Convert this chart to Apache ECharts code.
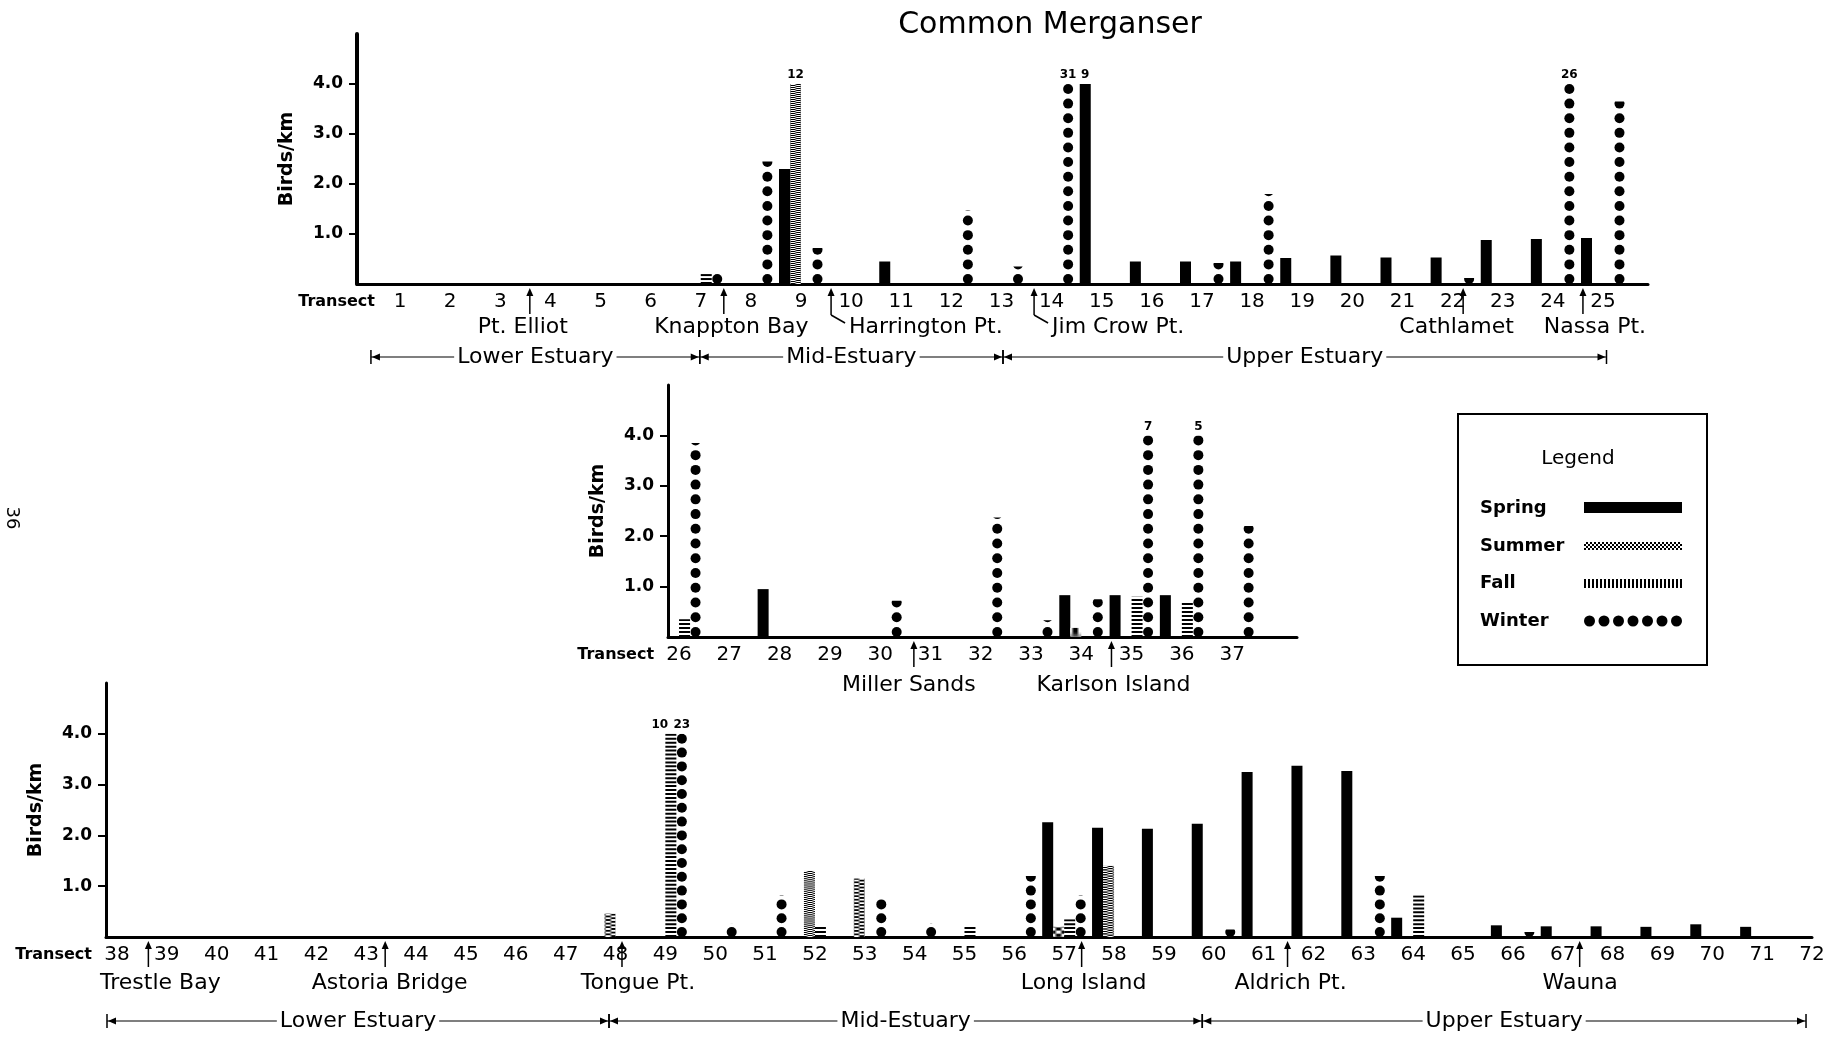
<!DOCTYPE html>
<html>
<head>
<meta charset="utf-8">
<title>Common Merganser</title>
<script src="https://cdn.jsdelivr.net/npm/echarts@6.0.0/dist/echarts.min.js"></script>
<style>
  html, body { margin: 0; padding: 0; background: #fff; }
  #chart { width: 1846px; height: 1037px; }
</style>
</head>
<body>
<div id="chart"></div>
<script>
// ===================== DATA: Birds/km by transect and season =====================
// null = none recorded. Values above CLIP are drawn cut at 4.0 and labelled with their value.
const CLIP = 4.0;
const seasonNames = ['Spring', 'Summer', 'Fall', 'Winter'];

// Panel 1 — transects 1–25
const topTransects = [1,2,3,4,5,6,7,8,9,10,11,12,13,14,15,16,17,18,19,20,21,22,23,24,25];
const topSpring = [null,null,null,null,null,null,null,null,2.3,null,0.45,null,null,null,9,0.45,0.45,0.45,0.52,0.57,0.53,0.53,0.88,0.9,0.92];
const topSummer = [null,null,null,null,null,null,null,null,12,null,null,null,null,null,null,null,null,null,null,null,null,null,null,null,null];
const topFall   = [null,null,null,null,null,null,0.2,null,null,null,null,null,null,null,null,null,null,null,null,null,null,null,null,null,null];
const topWinter = [null,null,null,null,null,null,0.25,2.45,0.72,null,null,1.47,0.35,31,null,null,0.42,1.8,null,null,null,0.12,null,26,3.65];

// Panel 2 — transects 26–37
const midTransects = [26,27,28,29,30,31,32,33,34,35,36,37];
const midSpring = [null,null,0.95,null,null,null,null,null,0.83,0.83,0.83,null];
const midSummer = [null,null,null,null,null,null,null,null,0.18,null,null,null];
const midFall   = [0.35,null,null,null,null,null,null,null,null,0.8,0.68,null];
const midWinter = [3.85,null,null,null,0.72,null,2.37,0.33,0.75,7,5,2.2];

// Panel 3 — transects 38–72
const botTransects = [38,39,40,41,42,43,44,45,46,47,48,49,50,51,52,53,54,55,56,57,58,59,60,61,62,63,64,65,66,67,68,69,70,71,72];
const botSpring = [null,null,null,null,null,null,null,null,null,null,null,null,null,null,null,null,null,null,null,2.26,2.15,2.13,2.23,3.25,3.37,3.27,0.38,null,0.23,0.21,0.21,0.2,0.25,0.2,null];
const botSummer = [null,null,null,null,null,null,null,null,null,null,0.46,null,null,null,1.3,1.15,null,null,null,0.2,1.4,null,null,null,null,null,null,null,null,null,null,null,null,null,null];
const botFall   = [null,null,null,null,null,null,null,null,null,null,null,10,null,null,0.2,null,null,0.2,null,0.35,null,null,null,null,null,null,0.82,null,null,null,null,null,null,null,null];
const botWinter = [null,null,null,null,null,null,null,null,null,null,null,23,0.26,0.82,null,0.77,0.27,null,1.2,0.82,null,null,0.15,null,null,1.2,null,null,0.1,null,null,null,null,null,null];

// Landmarks along the river: [name, arrow position (transect units), label centre (transect units) or null for a leader label]
const topLandmarks = [['Pt. Elliot',3.59,3.45],['Knappton Bay',7.46,7.61],['Harrington Pt.',9.6,null],['Jim Crow Pt.',13.65,null],['Cathlamet',22.21,22.08],['Nassa Pt.',24.6,24.84]];
const midLandmarks = [['Miller Sands',30.67,30.57],['Karlson Island',34.6,34.64]];
const botLandmarks = [['Trestle Bay',38.63,38.87],['Astoria Bridge',43.38,43.47],['Tongue Pt.',48.13,48.45],['Long Island',57.35,57.39],['Aldrich Pt.',61.48,61.54],['Wauna',67.34,67.35]];

// Estuary zones: [name, from, to] in transect units
const topZones = [['Lower Estuary',0.42,6.98],['Mid-Estuary',6.98,13.03],['Upper Estuary',13.03,25.07]];
const botZones = [['Lower Estuary',37.8,47.87],['Mid-Estuary',47.87,59.77],['Upper Estuary',59.77,71.88]];

// ===================== LAYOUT / STYLE =====================
const FONT = 'DejaVu Sans';
const panels = [
  { transects: topTransects, vals: [topSpring, topSummer, topFall, topWinter], landmarks: topLandmarks, zones: topZones,
    grid: { left: 357, top: 34, width: 1291, height: 250 }, xmin: 0.142, xmax: 25.898, yLine: 4, textDy: 43, zoneDy: 73 },
  { transects: midTransects, vals: [midSpring, midSummer, midFall, midWinter], landmarks: midLandmarks, zones: [],
    grid: { left: 668, top: 385, width: 629, height: 252 }, xmin: 25.78, xmax: 38.29, yLine: 3, textDy: 48, zoneDy: 0 },
  { transects: botTransects, vals: [botSpring, botSummer, botFall, botWinter], landmarks: botLandmarks, zones: botZones,
    grid: { left: 106, top: 683, width: 1706, height: 254 }, xmin: 37.78, xmax: 72, yLine: 3, textDy: 46, zoneDy: 84 }
];

function makeCanvas(w, h, draw) {
  const c = document.createElement('canvas'); c.width = w; c.height = h;
  const g = c.getContext('2d'); g.fillStyle = '#fff'; g.fillRect(0, 0, w, h); g.fillStyle = '#000'; draw(g); return c;
}
const stippleImg = makeCanvas(4, 4, g => { g.fillRect(0, 0, 2, 2); g.fillRect(2, 2, 2, 2); });
const vStripeImg = makeCanvas(4, 1, g => { g.fillRect(0, 0, 2, 1); });
const stipple = { image: stippleImg, repeat: 'repeat' };
const vStripes = { image: vStripeImg, repeat: 'repeat' };

const look = {
  Spring: { symbol: 'rect', symbolRepeat: false, symbolSize: ['100%', '100%'], itemStyle: { color: '#000' } },
  Summer: { symbol: 'rect', symbolRepeat: false, symbolSize: ['100%', '100%'], itemStyle: { color: stipple } },
  Fall:   { symbol: 'rect', symbolRepeat: true, symbolClip: true, symbolBoundingData: CLIP, symbolSize: ['100%', 2], symbolMargin: 1, itemStyle: { color: '#000' },
            label: { padding: [0, 22, 0, 0] } },
  Winter: { symbol: 'circle', symbolRepeat: true, symbolClip: true, symbolBoundingData: CLIP, symbolSize: [10, 10], symbolMargin: 2.4, itemStyle: { color: '#000' } }
};

const series = [];
panels.forEach((p, k) => {
  seasonNames.forEach((s, si) => {
    const lk = look[s];
    const data = [];
    p.vals[si].forEach((v, i) => {
      if (v == null) return;
      const item = { value: [p.transects[i], Math.min(v, CLIP)] };
      if (v > CLIP) item.label = Object.assign({ show: true, formatter: String(v) }, lk.label || {});
      data.push(item);
    });
    series.push(Object.assign({}, lk, {
      type: 'pictorialBar', name: s, xAxisIndex: k, yAxisIndex: k,
      barWidth: 11, barGap: '0%', data, animation: false, z: 3,
      label: Object.assign({ show: false, position: 'top', distance: 3, color: '#000', fontFamily: FONT, fontSize: 12, fontWeight: 'bold' }, lk.label || {})
    }));
  });
});

const option = {
  backgroundColor: '#fff',
  animation: false,
  grid: panels.map(p => Object.assign({ containLabel: false, outerBoundsMode: 'none' }, p.grid)),
  xAxis: panels.map((p, k) => ({
    type: 'value', gridIndex: k, min: p.xmin, max: p.xmax,
    axisLine: { show: true, onZero: false, lineStyle: { color: '#000', width: 3 } },
    axisTick: { show: false },
    splitLine: { show: false },
    axisLabel: { customValues: p.transects, margin: 8, color: '#000', fontFamily: FONT, fontSize: 20, hideOverlap: false }
  })),
  yAxis: panels.map((p, k) => ({
    type: 'value', gridIndex: k, min: 0, max: 5, interval: 1,
    name: 'Birds/km', nameLocation: 'middle', nameRotate: 90, nameGap: 60,
    nameTextStyle: { color: '#000', fontFamily: FONT, fontSize: 19, fontWeight: 'bold' },
    axisLine: { show: true, lineStyle: { color: '#000', width: p.yLine } },
    axisTick: { show: true, length: 8, customValues: [1, 2, 3, 4], lineStyle: { color: '#000', width: 2 } },
    splitLine: { show: false },
    axisLabel: { customValues: [1, 2, 3, 4], formatter: v => v.toFixed(1), margin: 14, color: '#000', fontFamily: FONT, fontSize: 17, fontWeight: 'bold' }
  })),
  series
};

const chart = echarts.init(document.getElementById('chart'), null, { renderer: 'canvas' });
chart.setOption(option);

// ===================== annotations placed through the axes =====================
const px = (k, u) => chart.convertToPixel({ xAxisIndex: k }, u);
const py = (k, v) => chart.convertToPixel({ yAxisIndex: k }, v);
const G = [];
const T = (x, y, text, o) => G.push({ type: 'text', x, y, silent: true, z: 10,
  style: Object.assign({ text, fill: '#000', fontFamily: FONT, fontSize: 22, align: 'center', verticalAlign: 'middle' }, o || {}) });
const L = (x1, y1, x2, y2, w) => G.push({ type: 'line', silent: true, z: 9, shape: { x1, y1, x2, y2 }, style: { stroke: '#000', lineWidth: w || 1.5 } });
const P = pts => G.push({ type: 'polygon', silent: true, z: 9, shape: { points: pts }, style: { fill: '#000' } });

// title
T(1050, 25, 'Common Merganser', { fontSize: 30 });
// page number
G.push({ type: 'text', x: 12, y: 518, rotation: -Math.PI / 2, silent: true,
  style: { text: '36', fill: '#000', fontFamily: FONT, fontSize: 18, align: 'center', verticalAlign: 'middle' } });

panels.forEach((p, k) => {
  const yb = py(k, 0);
  const x0 = px(k, p.transects[0]);
  T(x0 - 25, yb + 18, 'Transect', { align: 'right', fontSize: 16, fontWeight: 'bold' });
  p.landmarks.forEach(([name, at, labelAt]) => {
    const x = px(k, at);
    P([[x, yb + 4], [x - 3.5, yb + 12], [x + 3.5, yb + 12]]);
    if (labelAt == null) {
      L(x, yb + 8, x, yb + 31);
      L(x, yb + 31, x + 14, yb + 39);
      T(x + 18, yb + p.textDy, name, { align: 'left' });
    } else {
      L(x, yb + 8, x, yb + 30);
      T(px(k, labelAt), yb + p.textDy, name);
    }
  });
  p.zones.forEach(([name, a, b]) => {
    const x1 = px(k, a), x2 = px(k, b), y = yb + p.zoneDy;
    L(x1, y, x2, y, 1.2);
    L(x1, y - 7, x1, y + 7, 1.5);
    L(x2, y - 7, x2, y + 7, 1.5);
    P([[x1 + 1, y], [x1 + 9, y - 3.5], [x1 + 9, y + 3.5]]);
    P([[x2 - 1, y], [x2 - 9, y - 3.5], [x2 - 9, y + 3.5]]);
    T((x1 + x2) / 2, y, name, { backgroundColor: '#fff', padding: [0, 3] });
  });
});

// legend box
G.push({ type: 'rect', silent: true, shape: { x: 1458, y: 414, width: 249, height: 251 }, style: { fill: '#fff', stroke: '#000', lineWidth: 2 } });
T(1578, 459, 'Legend', { fontSize: 20 });
const rowsY = [508, 546, 583, 621];
seasonNames.forEach((s, i) => T(1480, rowsY[i], s, { align: 'left', fontSize: 18, fontWeight: 'bold' }));
G.push({ type: 'rect', silent: true, shape: { x: 1584, y: 502, width: 98, height: 11 }, style: { fill: '#000' } });
G.push({ type: 'rect', silent: true, shape: { x: 1584, y: 542, width: 98, height: 8 }, style: { fill: stipple } });
G.push({ type: 'rect', silent: true, shape: { x: 1584, y: 579, width: 98, height: 9 }, style: { fill: vStripes } });
for (let i = 0; i < 7; i++) G.push({ type: 'circle', silent: true, shape: { cx: 1589.5 + i * 14.5, cy: 621, r: 5.5 }, style: { fill: '#000' } });

chart.setOption({ graphic: G });
</script>
</body>
</html>
